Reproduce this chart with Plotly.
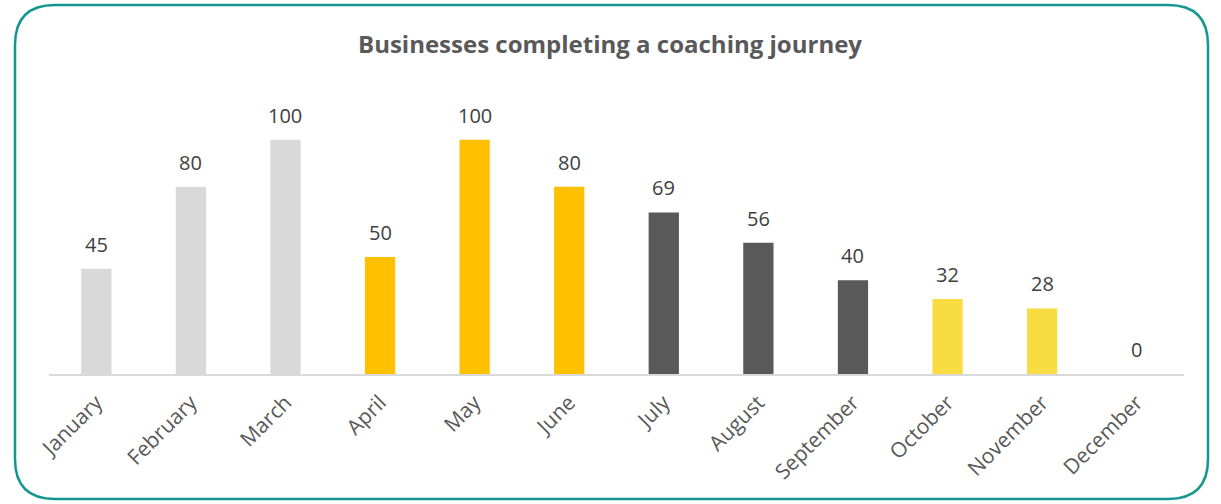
import plotly.graph_objects as go

months = ["January", "February", "March", "April", "May", "June", "July",
          "August", "September", "October", "November", "December"]
values = [45, 80, 100, 50, 100, 80, 69, 56, 40, 32, 28, 0]
colors = ["#D9D9D9", "#D9D9D9", "#D9D9D9", "#FFC000", "#FFC000", "#FFC000",
          "#595959", "#595959", "#595959", "#F9DC42", "#F9DC42", "#F9DC42"]
title = "Businesses completing a coaching journey"

W, H = 1221, 504
ml, mr, mt, mb = 49, 37, 93, 130
pw, ph = W - ml - mr, H - mt - mb

def px(x):
    return (x - ml) / pw

def py(y):
    return 1 - (y - mt) / ph

fig = go.Figure()
fig.add_trace(go.Bar(x=months, y=values, marker=dict(color=colors, line=dict(width=0)),
                     hoverinfo="x+y"))

for m, v in zip(months, values):
    fig.add_annotation(x=m, y=v, text=str(v), showarrow=False, yanchor="bottom",
                       yshift=9, font=dict(family="Open Sans", size=20, color="#404040"))

# rounded border
x0, x1, y0, y1, r = 15, 1208, 5, 499, 40
path = (f"M {px(x0+r)} {py(y0)} L {px(x1-r)} {py(y0)} "
        f"Q {px(x1)} {py(y0)} {px(x1)} {py(y0+r)} "
        f"L {px(x1)} {py(y1-r)} Q {px(x1)} {py(y1)} {px(x1-r)} {py(y1)} "
        f"L {px(x0+r)} {py(y1)} Q {px(x0)} {py(y1)} {px(x0)} {py(y1-r)} "
        f"L {px(x0)} {py(y0+r)} Q {px(x0)} {py(y0)} {px(x0+r)} {py(y0)} Z")
fig.add_shape(type="path", path=path, xref="paper", yref="paper",
              line=dict(color="#13968F", width=2.5), layer="above")

fig.update_layout(
    width=W, height=H,
    margin=dict(l=ml, r=mr, t=mt, b=mb, autoexpand=False),
    paper_bgcolor="white", plot_bgcolor="white",
    bargap=0.68,
    showlegend=False,
    title=dict(text=f"<b>{title}</b>", x=(610 - ml) / pw, xref="paper", xanchor="center",
               y=1 - 45 / H, yanchor="middle", automargin=False,
               font=dict(family="Open Sans", size=24, color="#595959")),
    xaxis=dict(tickangle=-45, showline=True, linecolor="#D9D9D9", linewidth=2,
               ticks="", showgrid=False, automargin=False, ticklabelstandoff=6,
               tickfont=dict(family="Open Sans", size=21, color="#595959")),
    yaxis=dict(range=[0, 120], visible=False, showgrid=False, zeroline=False,
               automargin=False),
)

fig.write_html("out.html", config={"displayModeBar": False},
               post_script="document.body.style.margin='0';document.body.style.overflow='hidden';")
